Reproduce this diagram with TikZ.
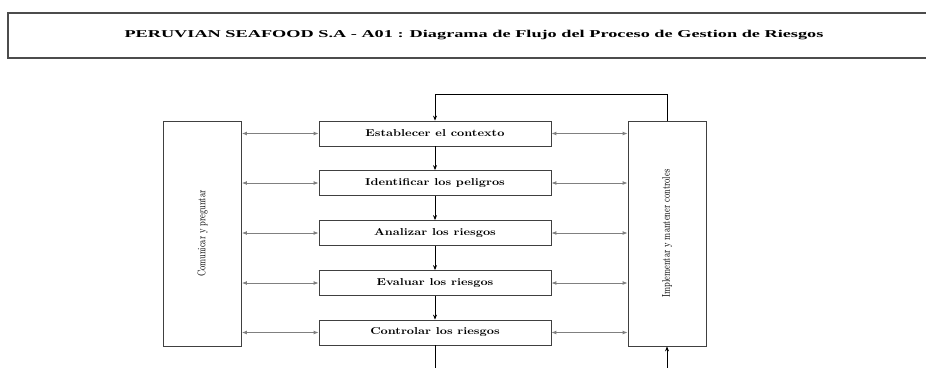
\documentclass[tikz,border=0pt]{standalone}
\usepackage{fontspec}
\usepackage{graphicx}
\usetikzlibrary{arrows.meta}
\newfontfamily\titlefont{Liberation Serif}
\newcommand{\widetext}[2]{\scalebox{#1}[1]{#2}}

\tikzset{
  titlebox/.style={draw=black!70,line width=1.5pt,minimum width=932pt,minimum height=45pt,
    font=\titlefont\bfseries\fontsize{10.5}{12}\selectfont},
  stepbox/.style={draw=black!75,line width=0.8pt,minimum width=232pt,minimum height=25pt,
    inner sep=0pt,font=\bfseries\fontsize{10}{12}\selectfont},
  sidebox/.style={draw=black!75,line width=0.8pt,minimum width=78pt,minimum height=225pt,
    inner sep=0pt,font=\fontsize{8}{10}\selectfont},
  biarrow/.style={{Latex[length=5pt,width=4pt]}-{Latex[length=5pt,width=4pt]},gray,line width=0.9pt},
  flow/.style={-{Stealth[length=5pt,width=4pt]},black,line width=0.7pt}
}

\begin{document}
\begin{tikzpicture}[x=1pt,y=-1pt]
\clip (0,0) rectangle (926,367);
\fill[white] (0,0) rectangle (926,367);

% titulo
\node[titlebox] (title) at (474,35.5) {\widetext{1.74}{PERUVIAN SEAFOOD S.A - A01 : Diagrama de Flujo del Proceso de Gestion de Riesgos}};

% pasos del proceso
\foreach \name/\y/\txt in {est/133.5/Establecer el contexto,ide/183/Identificar los peligros,
  ana/233/Analizar los riesgos,eva/283/Evaluar los riesgos,con/332.5/Controlar los riesgos} {
  \node[stepbox] (\name) at (435,\y) {\widetext{1.25}{\txt}};
}

% cajas laterales
\node[sidebox] (com) at (202.5,233.5) {\rotatebox{90}{\scalebox{1}[1.4]{Comunicar y preguntar}}};
\node[sidebox] (impl) at (667,233.5) {\rotatebox{90}{\scalebox{1}[1.4]{Implementar y mantener controles}}};

\foreach \a/\b in {est/ide,ide/ana,ana/eva,eva/con}
  \draw[flow] (\a) -- (\b);

\foreach \name in {est,ide,ana,eva,con} {
  \draw[biarrow] (com.east |- \name.west) -- (\name.west);
  \draw[biarrow] (\name.east) -- (impl.west |- \name.east);
}

% retorno
\draw[flow] (impl.north) -- ++(0,-26) -| (est.north);
\coordinate (loopend) at (435,380);
\draw[line width=0.7pt] (con.south) -- (con.south |- loopend);
\draw[flow] (impl.south |- loopend) -- (impl.south);
\end{tikzpicture}
\end{document}
